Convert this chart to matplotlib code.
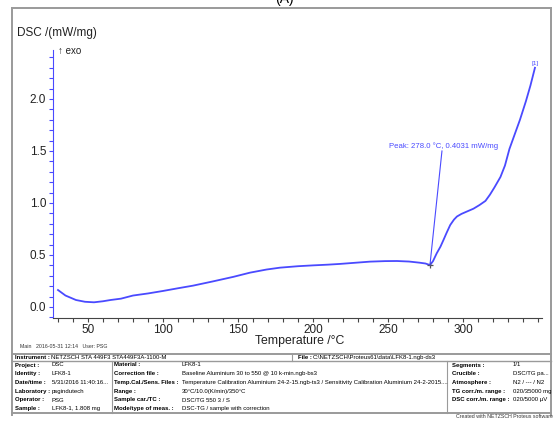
import matplotlib
matplotlib.use("Agg")
import matplotlib.pyplot as plt
from matplotlib.lines import Line2D
from matplotlib.ticker import FixedLocator, MultipleLocator, FormatStrFormatter

plt.rcParams["font.family"] = ["Liberation Sans", "DejaVu Sans"]

W, H = 553, 421

# DSC trace, sample LFK8-1
temp = [30, 35, 42, 48, 54, 60, 65, 72, 80, 90, 100, 110, 120, 133, 147,
        158, 169, 178, 190, 200, 210, 218, 228, 238, 248, 256, 264, 271,
        275, 278, 280, 282.5, 285, 287, 289, 291.5, 294, 296, 299, 302.5,
        307, 311, 315, 318, 321, 325, 328, 331, 335, 338, 342, 345, 348]
dsc = [0.163, 0.11, 0.067, 0.05, 0.045, 0.055, 0.067, 0.08, 0.11, 0.13,
       0.154, 0.18, 0.205, 0.245, 0.29, 0.33, 0.36, 0.378, 0.392, 0.40,
       0.407, 0.414, 0.425, 0.436, 0.441, 0.442, 0.437, 0.426, 0.418, 0.403,
       0.44, 0.516, 0.58, 0.644, 0.71, 0.788, 0.84, 0.87, 0.895, 0.917,
       0.945, 0.98, 1.02, 1.08, 1.15, 1.25, 1.36, 1.52, 1.68, 1.80, 1.98,
       2.13, 2.30]

peak_t, peak_v = 278.0, 0.4031

x_labels = [50, 100, 150, 200, 250, 300]

info_left = [("Project :", "DSC"),
             ("Identity :", "LFK8-1"),
             ("Date/time :", "5/31/2016 11:40:16..."),
             ("Laboratory :", "psgindutech"),
             ("Operator :", "PSG"),
             ("Sample :", "LFK8-1, 1.808 mg")]
info_mid = [("Material :", "LFK8-1"),
            ("Correction file :", "Baseline Aluminium 30 to 550 @ 10 k-min.ngb-bs3"),
            ("Temp.Cal./Sens. Files :", "Temperature Calibration Aluminium 24-2-15.ngb-ts3 / "
             "Sensitivity Calibration Aluminium 24-2-2015...."),
            ("Range :", "30°C/10.0(K/min)/350°C"),
            ("Sample car./TC :", "DSC/TG 550 3 / S"),
            ("Mode/type of meas. :", "DSC-TG / sample with correction")]
info_right = [("Segments :", "1/1"),
              ("Crucible :", "DSC/TG pa..."),
              ("Atmosphere :", "N2 / --- / N2"),
              ("TG corr./m. range :", "020/35000 mg"),
              ("DSC corr./m. range :", "020/5000 µV")]

blue = "#4a4aff"
grid_gray = "#9a9a9a"


def fx(px):
    return px / W


def fy(py):
    return 1 - py / H


def hline(fig, x0, x1, y, lw=1.0, color=grid_gray):
    fig.add_artist(Line2D([fx(x0), fx(x1)], [fy(y), fy(y)], lw=lw, color=color))


def vline(fig, x, y0, y1, lw=1.0, color=grid_gray):
    fig.add_artist(Line2D([fx(x), fx(x)], [fy(y0), fy(y1)], lw=lw, color=color))


fig = plt.figure(figsize=(W / 100, H / 100), dpi=100)

ax = fig.add_axes([fx(53), fy(318), fx(542) - fx(53), fy(50) - fy(318)])
ax.plot(temp, dsc, color=blue, lw=1.3)
ax.plot([peak_t], [peak_v], marker="+", color="#555555", ms=5, mew=0.9)
ax.plot([peak_t, 286], [peak_v, 1.50], color=blue, lw=0.8)
ax.text(250.5, 1.51, f"Peak: {peak_t:.1f} °C, {peak_v:.4f} mW/mg",
        color=blue, fontsize=5.6, ha="left", va="bottom")
ax.text(348.3, 2.32, "[1]", color=blue, fontsize=4.5, ha="center", va="bottom")

ax.set_xlim(26.67, 352.7)
ax.set_ylim(-0.106, 2.471)
ax.spines["top"].set_visible(False)
ax.spines["right"].set_visible(False)
ax.spines["left"].set_color(blue)
ax.spines["bottom"].set_color("#444444")

ax.xaxis.set_major_locator(FixedLocator(x_labels))
ax.xaxis.set_minor_locator(MultipleLocator(10))
ax.yaxis.set_major_locator(MultipleLocator(0.5))
ax.yaxis.set_minor_locator(MultipleLocator(0.1))
ax.yaxis.set_major_formatter(FormatStrFormatter("%.1f"))
ax.tick_params(axis="x", which="both", direction="out", length=3, width=0.8,
               colors="#444444", labelsize=8.5, pad=1.5, labelcolor="#222222")
ax.tick_params(axis="y", which="both", direction="out", length=3, width=0.8,
               colors=blue, labelsize=8.5, pad=2, labelcolor="#222222")

fig.text(fx(300), fy(341), "Temperature /°C", fontsize=8.8, ha="center",
         va="center", color="#222222")
fig.text(fx(17), fy(33), "DSC /(mW/mg)", fontsize=8.5, ha="left",
         va="center", color="#222222")
fig.text(fx(58), fy(51), "↑ exo", fontsize=7, ha="left", va="center",
         color="#222222")
fig.text(fx(284), fy(-1), "(A)", fontsize=10, ha="center", va="center")

# outer frame
hline(fig, 12, 551, 8, lw=1.4)
vline(fig, 12, 8, 415, lw=1.4)
vline(fig, 551, 8, 415, lw=1.4)

fig.text(fx(20), fy(346), "Main   2016-05-31 12:14   User: PSG", fontsize=3.8,
         ha="left", va="center", color="#333333")

# info table
hline(fig, 12, 551, 354, lw=1.4)
hline(fig, 12, 551, 361, lw=1.0)
hline(fig, 12, 551, 412.5, lw=1.4)
vline(fig, 292, 354, 361, lw=0.8)
vline(fig, 112, 361, 412.5, lw=0.8)
vline(fig, 447, 361, 412.5, lw=0.8)

fs = 4.3
fig.text(fx(15), fy(357.5), "Instrument :", fontsize=fs, weight="bold",
         va="center")
fig.text(fx(51), fy(357.5), "NETZSCH STA 449F3 STA449F3A-1100-M", fontsize=fs,
         va="center")
fig.text(fx(298), fy(357.5), "File :", fontsize=fs, weight="bold", va="center")
fig.text(fx(313), fy(357.5), "C:\\NETZSCH\\Proteus61\\data\\LFK8-1.ngb-ds3",
         fontsize=fs, va="center")

row_y = [365, 373.8, 382.6, 391.4, 400, 408.4]
for y, (lab, val) in zip(row_y, info_left):
    fig.text(fx(15), fy(y), lab, fontsize=fs, weight="bold", va="center")
    fig.text(fx(52), fy(y), val, fontsize=fs, va="center")
for y, (lab, val) in zip(row_y, info_mid):
    fig.text(fx(114), fy(y), lab, fontsize=fs, weight="bold", va="center")
    fig.text(fx(182), fy(y), val, fontsize=fs, va="center")
for y, (lab, val) in zip(row_y, info_right):
    fig.text(fx(452), fy(y), lab, fontsize=fs, weight="bold", va="center")
    fig.text(fx(513), fy(y), val, fontsize=fs, va="center")

fig.text(fx(553), fy(416.5), "Created with NETZSCH Proteus software",
         fontsize=3.8, ha="right", va="center", color="#333333")

fig.savefig("out.png", dpi=100)
